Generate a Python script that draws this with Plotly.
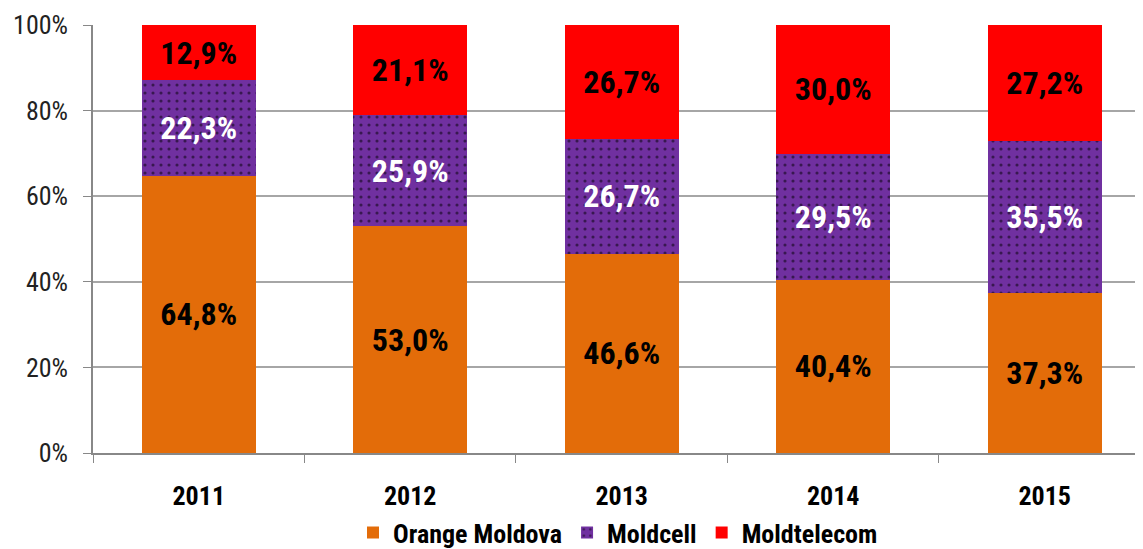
import plotly.graph_objects as go

years = ["2011", "2012", "2013", "2014", "2015"]
orange = [64.8, 53.0, 46.6, 40.4, 37.3]
moldcell = [22.3, 25.9, 26.7, 29.5, 35.5]
moldtelecom = [12.9, 21.1, 26.7, 30.0, 27.2]
y_ticks = [0, 20, 40, 60, 80, 100]

FONT = "Liberation Sans Narrow, Roboto Condensed, DejaVu Sans Condensed, sans-serif"

def fmt(v):
    return f"{v:.1f}".replace(".", ",") + "%"

lbl = dict(size=32, family=FONT, weight="bold")
fig = go.Figure()
fig.add_bar(x=years, y=orange, name="Orange Moldova", marker_color="#E36C09",
            text=[fmt(v) for v in orange], textfont=dict(color="black", **lbl), marker_line_width=0)
fig.add_bar(x=years, y=moldcell, name="Moldcell",
            marker=dict(color="#7030A0", line_width=0,
                        pattern=dict(shape=".", fgcolor="black", bgcolor="#7030A0", size=8, solidity=0.12)),
            text=[fmt(v) for v in moldcell], textfont=dict(color="white", **lbl))
fig.add_bar(x=years, y=moldtelecom, name="Moldtelecom", marker_color="#FF0000",
            text=[fmt(v) for v in moldtelecom], textfont=dict(color="black", **lbl), marker_line_width=0)

fig.update_traces(textposition="inside", insidetextanchor="middle", textangle=0,
                  constraintext="none", cliponaxis=False)

# page body has an 8px margin, so the figure is 8px smaller on each axis
fig.update_layout(
    barmode="stack", barnorm="percent", bargap=0.46,
    width=1135, height=541,
    margin=dict(l=85, r=0, t=17, b=96, autoexpand=False),
    paper_bgcolor="white", plot_bgcolor="white",
    font=dict(family=FONT, color="black"),
    legend=dict(orientation="h", x=0.5, xanchor="center", y=-0.186, yanchor="middle",
                font=dict(size=26, family=FONT, weight="bold"), traceorder="normal",
                itemwidth=30, tracegroupgap=0),
    showlegend=True,
)
fig.update_xaxes(type="category", range=[-0.5, 4.465], tickson="boundaries", automargin=False,
                 ticks="outside", ticklen=8, tickcolor="#888888", ticklabelstandoff=19,
                 showline=True, linecolor="#888888", linewidth=1.5,
                 tickfont=dict(size=26, family=FONT, color="black", weight="bold"),
                 showgrid=False)
fig.update_yaxes(range=[0, 100], tickvals=y_ticks, ticktext=[f"{t}%" for t in y_ticks], automargin=False,
                 ticks="outside", ticklen=8, tickcolor="#888888", ticklabelstandoff=10,
                 showline=True, linecolor="#888888", linewidth=1.5,
                 showgrid=True, gridcolor="#A6A6A6", gridwidth=1.5,
                 tickfont=dict(size=26, family=FONT, color="#222222"),
                 zeroline=False)

fig.write_html("out.html")
